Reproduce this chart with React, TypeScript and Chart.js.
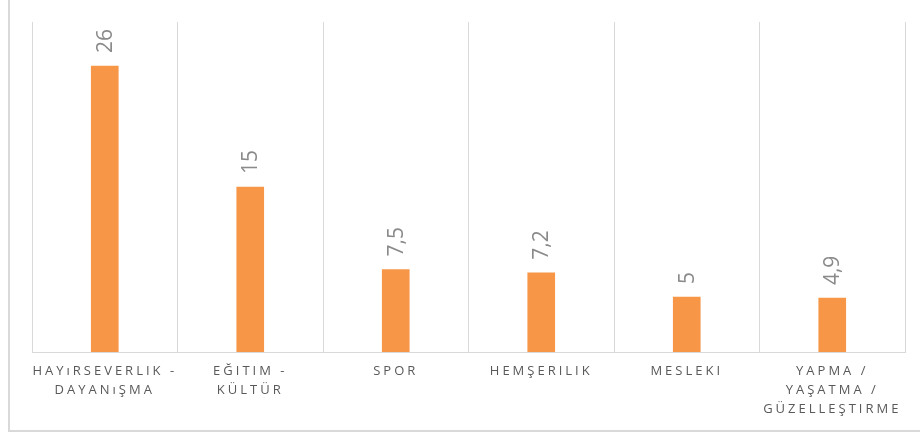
import React, { useEffect, useRef } from "react";
import { Chart, registerables } from "chart.js";
Chart.register(...registerables);

const categories: (string | string[])[] = [
  ["HAYıRSEVERLIK -", "DAYANıŞMA"],
  ["EĞITIM -", "KÜLTÜR"],
  "SPOR",
  "HEMŞERILIK",
  "MESLEKI",
  ["YAPMA /", "YAŞATMA /", "GÜZELLEŞTIRME"],
];
const values = [26, 15, 7.5, 7.2, 5, 4.9];
const valueLabels = ["26", "15", "7,5", "7,2", "5", "4,9"];
const yMin = 0;
const yMax = 30;

const labelPlugin = {
  id: "labelPlugin",
  beforeDraw(chart: any) {
    chart.ctx.letterSpacing = "3px";
  },
  afterDatasetsDraw(chart: any) {
    const ctx = chart.ctx;
    const meta = chart.getDatasetMeta(0);
    ctx.save();
    ctx.letterSpacing = "0px";
    ctx.font = "21px 'Open Sans'";
    ctx.fillStyle = "#8a8a8a";
    ctx.textAlign = "left";
    ctx.textBaseline = "middle";
    meta.data.forEach((bar: any, i: number) => {
      ctx.save();
      ctx.translate(bar.x + 1, bar.y - 13);
      ctx.rotate(-Math.PI / 2);
      ctx.fillText(valueLabels[i], 0, 0);
      ctx.restore();
    });
    ctx.restore();
  },
  afterDraw(chart: any) {
    chart.ctx.letterSpacing = "0px";
  },
};

export default function App() {
  const ref = useRef<HTMLCanvasElement>(null);
  useEffect(() => {
    const chart = new Chart(ref.current!, {
      type: "bar",
      data: {
        labels: categories,
        datasets: [{ data: values, backgroundColor: "#F79646", barThickness: 27 }],
      },
      options: {
        responsive: false,
        animation: false,
        devicePixelRatio: 1,
        layout: { padding: { left: 22, right: 15, top: 22, bottom: 0 } },
        plugins: { legend: { display: false }, tooltip: { enabled: false } },
        scales: {
          x: {
            grid: { offset: true, color: "#d9d9d9", drawTicks: false },
            border: { color: "#d9d9d9" },
            ticks: {
              color: "#595959",
              font: { family: "'Open Sans'", size: 13, lineHeight: 19 / 13 },
              padding: 10,
              autoSkip: false,
              maxRotation: 0,
              minRotation: 0,
            },
            afterFit: (s: any) => {
              s.height = 78;
            },
          },
          y: { display: false, min: yMin, max: yMax },
        },
      } as any,
      plugins: [labelPlugin],
    });
    return () => chart.destroy();
  }, []);
  return (
    <div
      style={{
        position: "fixed",
        left: 8,
        top: -2,
        width: 930,
        height: 434,
        boxSizing: "border-box",
        border: "2px solid #d9d9d9",
        background: "#fff",
      }}
    >
      <canvas ref={ref} width={910} height={430} style={{ display: "block" }} />
    </div>
  );
}
